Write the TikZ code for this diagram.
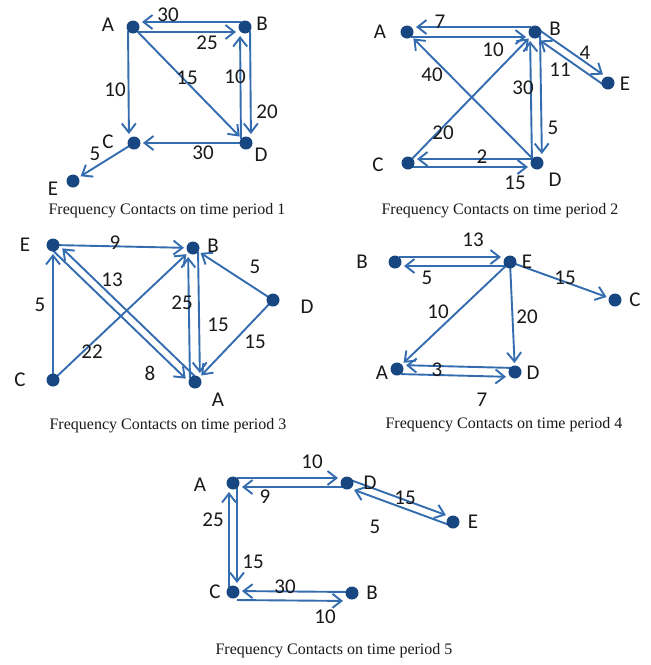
\documentclass[tikz,border=0pt]{standalone}
\usepackage{fontspec}
\setmainfont{Carlito}
\newfontfamily\capfont{Liberation Serif}
\usetikzlibrary{arrows.meta,calc}
\definecolor{edgeblue}{RGB}{52,108,176}
\definecolor{dotblue}{RGB}{24,70,128}
\definecolor{ink}{RGB}{25,25,25}
\pgfdeclarelayer{bg}
\pgfsetlayers{bg,main}
\begin{document}
\begin{tikzpicture}[x=1pt,y=-1pt,
 dot/.style={circle,fill=dotblue,draw=none,minimum size=13pt,inner sep=0pt},
 lbl/.style={font=\fontsize{21}{21}\selectfont,text=ink,inner sep=0pt},
 captxt/.style={font=\capfont\fontsize{16}{17}\selectfont,text=ink,inner sep=0pt},
 e/.style={draw=edgeblue,line width=1.9pt,-{Straight Barb[length=9pt,width=14pt]},shorten >=9pt,shorten <=4pt}]
\useasboundingbox (0,0) rectangle (651,665);
% ---------- Panel 1 ----------
\node[dot] (A1) at (133,27) {};
\node[dot] (B1) at (245,27) {};
\node[dot] (C1) at (134,143) {};
\node[dot] (D1) at (246,143) {};
\node[dot] (E1) at (73,181) {};
\node[lbl] (A1l) at (108,25) {A};
\node[lbl] (B1l) at (262,24) {B};
\node[lbl] (C1l) at (108,142) {C};
\node[lbl] (D1l) at (261,155) {D};
\node[lbl] (E1l) at (53,189) {E};
\node[lbl] (w1a) at (168,15) {30};
\node[lbl] (w1b) at (207,43) {25};
\node[lbl] (w1c) at (187,78) {15};
\node[lbl] (w1d) at (115,90) {10};
\node[lbl] (w1e) at (235,77) {10};
\node[lbl] (w1f) at (267,112) {20};
\node[lbl] (w1g) at (203,153) {30};
\node[lbl] (w1h) at (95,154) {5};
\node[captxt] (cap1) at (167,211) {Frequency Contacts on time period 1};
\begin{pgfonlayer}{bg}
\fill[white] (0,0) rectangle (651,665);
\draw[e] ($(B1.center)+(0,-5)$) -- ($(A1.center)+(0,-5)$);
\draw[e] ($(A1.center)+(0,5)$) -- ($(B1.center)+(0,5)$);
\draw[e] (A1.center) -- (D1.center);
\draw[e] ($(D1.center)+(-5,0)$) -- ($(B1.center)+(-5,0)$);
\draw[e] ($(B1.center)+(5,0)$) -- ($(D1.center)+(5,0)$);
\draw[e] ($(A1.center)+(-5,0)$) -- ($(C1.center)+(-5,0)$);
\draw[e] (D1.center) -- (C1.center);
\draw[e] (C1.center) -- (E1.center);
\end{pgfonlayer}
% ---------- Panel 2 ----------
\node[dot] (A2) at (407,32) {};
\node[dot] (B2) at (535,32) {};
\node[dot] (E2) at (608,83) {};
\node[dot] (C2) at (408,163) {};
\node[dot] (D2) at (537,163) {};
\node[lbl] (A2l) at (380,32) {A};
\node[lbl] (B2l) at (555,29) {B};
\node[lbl] (E2l) at (625,84) {E};
\node[lbl] (C2l) at (378,165) {C};
\node[lbl] (D2l) at (555,180) {D};
\node[lbl] (w2a) at (440,22) {7};
\node[lbl] (w2b) at (493,50) {10};
\node[lbl] (w2c) at (432,75) {40};
\node[lbl] (w2d) at (443,133) {20};
\node[lbl] (w2e) at (523,88) {30};
\node[lbl] (w2f) at (553,128) {5};
\node[lbl] (w2g) at (585,53) {4};
\node[lbl] (w2h) at (560,70) {11};
\node[lbl] (w2i) at (482,157) {2};
\node[lbl] (w2j) at (515,183) {15};
\node[captxt] (cap2) at (500,211) {Frequency Contacts on time period 2};
\begin{pgfonlayer}{bg}
\draw[e] ($(B2.center)+(0,-5)$) -- ($(A2.center)+(0,-5)$);
\draw[e] ($(A2.center)+(0,5)$) -- ($(B2.center)+(0,5)$);
\draw[e] (D2.center) -- (A2.center);
\draw[e] (C2.center) -- (B2.center);
\draw[e] ($(D2.center)+(-5,0)$) -- ($(B2.center)+(-5,0)$);
\draw[e] ($(B2.center)+(5,0)$) -- ($(D2.center)+(5,0)$);
\draw[e] ($(B2.center)+(2.3,-3.3)$) -- ($(E2.center)+(2.3,-3.3)$);
\draw[e] ($(E2.center)+(-2.3,3.3)$) -- ($(B2.center)+(-2.3,3.3)$);
\draw[e] ($(D2.center)+(0,-4)$) -- ($(C2.center)+(0,-4)$);
\draw[e] ($(C2.center)+(0,4)$) -- ($(D2.center)+(0,4)$);
\end{pgfonlayer}
% ---------- Panel 3 ----------
\node[dot] (E3) at (53,245) {};
\node[dot] (B3) at (193,248) {};
\node[dot] (D3) at (273,300) {};
\node[dot] (C3) at (53,380) {};
\node[dot] (A3) at (195,382) {};
\node[lbl] (E3l) at (25,245) {E};
\node[lbl] (B3l) at (213,246) {B};
\node[lbl] (D3l) at (307,307) {D};
\node[lbl] (C3l) at (20,380) {C};
\node[lbl] (A3l) at (218,400) {A};
\node[lbl] (w3a) at (115,243) {9};
\node[lbl] (w3b) at (40,305) {5};
\node[lbl] (w3c) at (112,280) {13};
\node[lbl] (w3d) at (150,373) {8};
\node[lbl] (w3e) at (92,352) {22};
\node[lbl] (w3f) at (182,303) {25};
\node[lbl] (w3g) at (218,325) {15};
\node[lbl] (w3h) at (255,267) {5};
\node[lbl] (w3i) at (255,342) {15};
\node[captxt] (cap3) at (168,426) {Frequency Contacts on time period 3};
\begin{pgfonlayer}{bg}
\draw[e] (E3.center) -- (B3.center);
\draw[e] (C3.center) -- (E3.center);
\draw[e] ($(A3.center)+(2.8,-2.9)$) -- ($(E3.center)+(2.8,-2.9)$);
\draw[e] ($(E3.center)+(-2.8,2.9)$) -- ($(A3.center)+(-2.8,2.9)$);
\draw[e] (C3.center) -- (B3.center);
\draw[e] ($(A3.center)+(-5,0)$) -- ($(B3.center)+(-5,0)$);
\draw[e] ($(B3.center)+(5,0)$) -- ($(A3.center)+(5,0)$);
\draw[e] (D3.center) -- (B3.center);
\draw[e] (D3.center) -- (A3.center);
\end{pgfonlayer}
% ---------- Panel 4 ----------
\node[dot] (B4) at (395,262) {};
\node[dot] (E4) at (510,262) {};
\node[dot] (C4) at (615,300) {};
\node[dot] (A4) at (397,369) {};
\node[dot] (D4) at (515,372) {};
\node[lbl] (B4l) at (362,262) {B};
\node[lbl] (E4l) at (527,262) {E};
\node[lbl] (C4l) at (635,300) {C};
\node[lbl] (A4l) at (382,373) {A};
\node[lbl] (D4l) at (533,373) {D};
\node[lbl] (w4a) at (473,240) {13};
\node[lbl] (w4b) at (427,278) {5};
\node[lbl] (w4c) at (565,278) {15};
\node[lbl] (w4d) at (438,312) {10};
\node[lbl] (w4e) at (527,317) {20};
\node[lbl] (w4f) at (437,370) {3};
\node[lbl] (w4g) at (482,400) {7};
\node[captxt] (cap4) at (504,425) {Frequency Contacts on time period 4};
\begin{pgfonlayer}{bg}
\draw[e] ($(B4.center)+(0,-5)$) -- ($(E4.center)+(0,-5)$);
\draw[e] ($(E4.center)+(0,4)$) -- ($(B4.center)+(0,4)$);
\draw[e] (E4.center) -- (C4.center);
\draw[e] (E4.center) -- (A4.center);
\draw[e] (E4.center) -- (D4.center);
\draw[e] ($(D4.center)+(0,-4)$) -- ($(A4.center)+(0,-4)$);
\draw[e] ($(A4.center)+(0,5)$) -- ($(D4.center)+(0,5)$);
\end{pgfonlayer}
% ---------- Panel 5 ----------
\node[dot] (A5) at (233,483) {};
\node[dot] (D5) at (347,483) {};
\node[dot] (E5) at (453,522) {};
\node[dot] (C5) at (233,592) {};
\node[dot] (B5) at (352,593) {};
\node[lbl] (A5l) at (200,485) {A};
\node[lbl] (D5l) at (370,483) {D};
\node[lbl] (E5l) at (473,522) {E};
\node[lbl] (C5l) at (215,592) {C};
\node[lbl] (B5l) at (372,593) {B};
\node[lbl] (w5a) at (312,462) {10};
\node[lbl] (w5b) at (265,497) {9};
\node[lbl] (w5c) at (405,498) {15};
\node[lbl] (w5d) at (375,527) {5};
\node[lbl] (w5e) at (213,520) {25};
\node[lbl] (w5f) at (253,562) {15};
\node[lbl] (w5g) at (285,587) {30};
\node[lbl] (w5h) at (325,617) {10};
\node[captxt] (cap5) at (334,651) {Frequency Contacts on time period 5};
\begin{pgfonlayer}{bg}
\draw[e] ($(A5.center)+(0,-5)$) -- ($(D5.center)+(0,-5)$);
\draw[e] ($(D5.center)+(0,4)$) -- ($(A5.center)+(0,4)$);
\draw[e] ($(D5.center)+(1.4,-3.8)$) -- ($(E5.center)+(1.4,-3.8)$);
\draw[e] ($(E5.center)+(-1.4,3.8)$) -- ($(D5.center)+(-1.4,3.8)$);
\draw[e] ($(C5.center)+(-4,0)$) -- ($(A5.center)+(-4,0)$);
\draw[e] ($(A5.center)+(4,0)$) -- ($(C5.center)+(4,0)$);
\draw[e] ($(B5.center)+(0,-1)$) -- ($(C5.center)+(0,-1)$);
\draw[e] ($(C5.center)+(0,8)$) -- ($(B5.center)+(0,8)$);
\end{pgfonlayer}
\end{tikzpicture}
\end{document}
